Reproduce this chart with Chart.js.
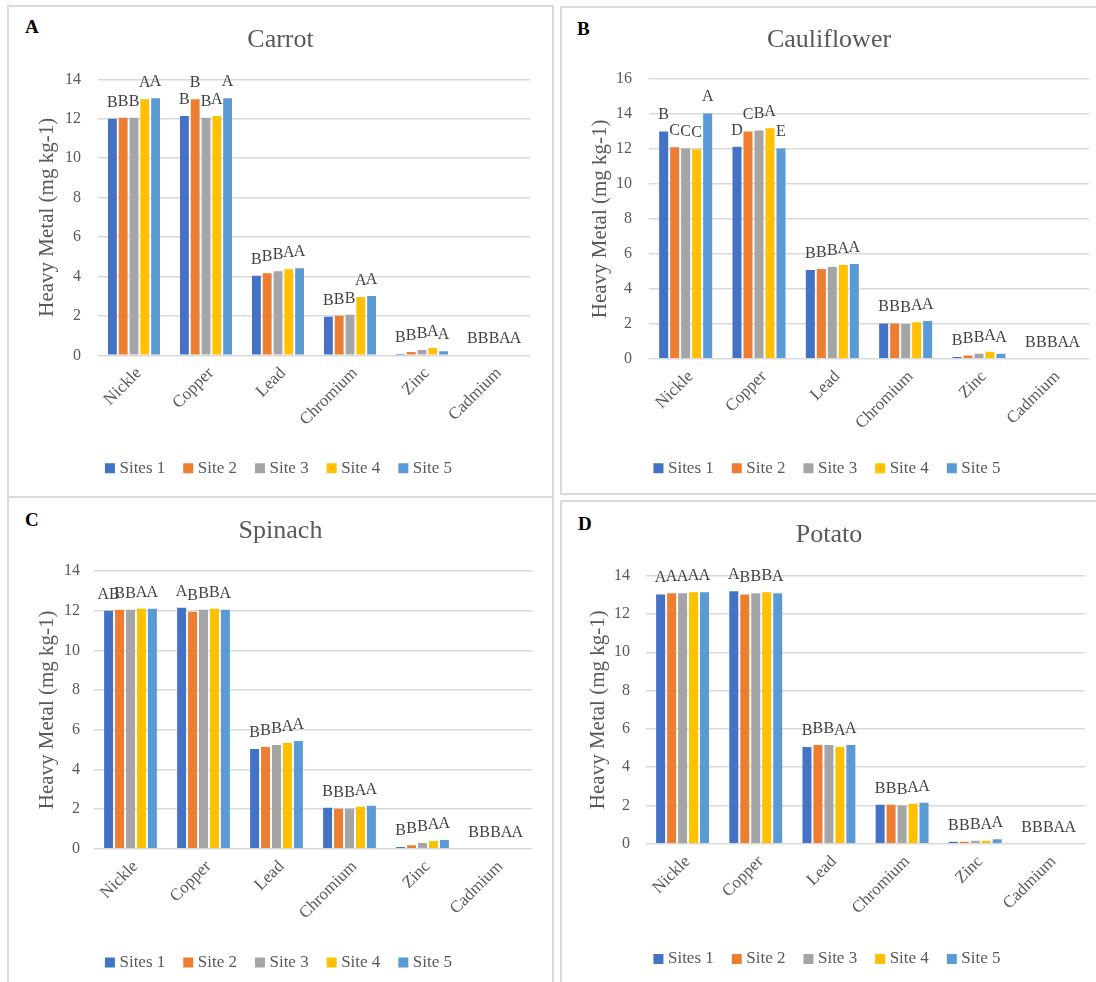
<!DOCTYPE html>
<html>
<head>
<meta charset="utf-8">
<script src="https://cdn.jsdelivr.net/npm/chart.js@4.4.1/dist/chart.umd.min.js"></script>
<style>
  html, body { margin: 0; padding: 0; background: #fff; width: 1096px; height: 982px; overflow: hidden; position: relative; }
  .frame { position: absolute; box-sizing: border-box; border: 2px solid #d9d9d9; }
  canvas { position: absolute; }
  .tag { position: absolute; font: bold 19px 'Liberation Serif', 'Times New Roman', serif; color: #000; line-height: 1; }
</style>
</head>
<body>
<div class="frame" style="left:7px;top:5px;width:547px;height:493px"></div>
<div class="frame" style="left:560px;top:6px;width:560px;height:489px"></div>
<div class="frame" style="left:7px;top:496px;width:547px;height:520px"></div>
<div class="frame" style="left:560px;top:500px;width:560px;height:520px"></div>
<div class="tag" style="left:25px;top:17px">A</div>
<div class="tag" style="left:577px;top:19px">B</div>
<div class="tag" style="left:25px;top:510px">C</div>
<div class="tag" style="left:578px;top:514px">D</div>

<script>
// Heavy metal categories and sampling sites
const metals = ['Nickle', 'Copper', 'Lead', 'Chromium', 'Zinc', 'Cadmium'];
const siteNames = ['Sites 1', 'Site 2', 'Site 3', 'Site 4', 'Site 5'];
const yTicksMax = { carrot: 14, cauliflower: 16, spinach: 14, potato: 14 };

// Concentrations (mg kg-1): one row per site, one column per metal
const carrot = [
  [12.00, 12.14, 4.04, 1.96, 0.07, 0],
  [12.05, 12.99, 4.16, 2.01, 0.17, 0],
  [12.05, 12.05, 4.26, 2.06, 0.27, 0],
  [12.99, 12.14, 4.36, 2.96, 0.37, 0],
  [13.04, 13.04, 4.41, 3.01, 0.20, 0]
];
const cauliflower = [
  [13.00, 12.13, 5.07, 2.02, 0.10, 0],
  [12.09, 13.00, 5.13, 2.02, 0.19, 0],
  [12.03, 13.06, 5.24, 1.98, 0.29, 0],
  [11.98, 13.18, 5.36, 2.08, 0.40, 0],
  [14.03, 12.03, 5.42, 2.15, 0.29, 0]
];
const spinach = [
  [12.00, 12.15, 5.03, 2.07, 0.08, 0],
  [12.05, 11.95, 5.13, 2.02, 0.18, 0],
  [12.05, 12.05, 5.23, 2.02, 0.29, 0],
  [12.10, 12.10, 5.33, 2.12, 0.39, 0],
  [12.10, 12.05, 5.43, 2.17, 0.44, 0]
];
const potato = [
  [13.02, 13.19, 5.05, 2.04, 0.10, 0],
  [13.08, 13.02, 5.15, 2.04, 0.10, 0],
  [13.08, 13.08, 5.15, 1.99, 0.16, 0],
  [13.13, 13.13, 5.05, 2.09, 0.16, 0],
  [13.13, 13.08, 5.15, 2.14, 0.23, 0]
];

// Significance letters above each bar (same layout as the value rows)
const carrotLetters = [
  ['B', 'B', 'B', 'B', 'B', 'B'],
  ['B', 'B', 'B', 'B', 'B', 'B'],
  ['B', 'B', 'B', 'B', 'B', 'B'],
  ['A', 'A', 'A', 'A', 'A', 'A'],
  ['A', 'A', 'A', 'A', 'A', 'A']
];
const cauliflowerLetters = [
  ['B', 'D', 'B', 'B', 'B', 'B'],
  ['C', 'C', 'B', 'B', 'B', 'B'],
  ['C', 'B', 'B', 'B', 'B', 'B'],
  ['C', 'A', 'A', 'A', 'A', 'A'],
  ['A', 'E', 'A', 'A', 'A', 'A']
];
const spinachLetters = [
  ['AB', 'A', 'B', 'B', 'B', 'B'],
  ['B', 'B', 'B', 'B', 'B', 'B'],
  ['B', 'B', 'B', 'B', 'B', 'B'],
  ['A', 'B', 'A', 'A', 'A', 'A'],
  ['A', 'A', 'A', 'A', 'A', 'A']
];
const potatoLetters = [
  ['A', 'A', 'B', 'B', 'B', 'B'],
  ['A', 'B', 'B', 'B', 'B', 'B'],
  ['A', 'B', 'B', 'B', 'B', 'B'],
  ['A', 'B', 'A', 'A', 'A', 'A'],
  ['A', 'A', 'A', 'A', 'A', 'A']
];

// ---- styling ----
const SERIF = "'Liberation Serif', 'Times New Roman', serif";
const siteColors = ['#4472C4', '#ED7D31', '#A5A5A5', '#FFC000', '#5B9BD5'];
const TEXT = '#595959';
const TITLE_SIZE = 26, AXIS_TITLE_SIZE = 21, LEGEND_SIZE = 17, LEGEND_PAD = 22;

// Page-pixel placement of each panel: canvas box, plot area, title/legend centre lines
const panels = [
  { title: 'Carrot', values: carrot, letters: carrotLetters, yMax: yTicksMax.carrot,
    canvas: { x: 9, y: 7, w: 543, h: 489 }, plot: { left: 98, right: 530, top: 79.3, bottom: 355.3 },
    titleMid: 40, legendMid: 468.3, yTitleX: 47, tickPad: 17 },
  { title: 'Cauliflower', values: cauliflower, letters: cauliflowerLetters, yMax: yTicksMax.cauliflower,
    canvas: { x: 562, y: 8, w: 534, h: 485 }, plot: { left: 649, right: 1089, top: 79, bottom: 358.7 },
    titleMid: 40, legendMid: 468.3, yTitleX: 600, tickPad: 17 },
  { title: 'Spinach', values: spinach, letters: spinachLetters, yMax: yTicksMax.spinach,
    canvas: { x: 9, y: 498, w: 543, h: 484 }, plot: { left: 94, right: 532, top: 571, bottom: 848.7 },
    titleMid: 531.5, legendMid: 962.5, yTitleX: 47, tickPad: 14 },
  { title: 'Potato', values: potato, letters: potatoLetters, yMax: yTicksMax.potato,
    canvas: { x: 562, y: 502, w: 534, h: 480 }, plot: { left: 646, right: 1085, top: 575.7, bottom: 843.7 },
    titleMid: 535.5, legendMid: 959, yTitleX: 598.5, tickPad: 16 }
];

// Draws the significance letters just above every bar
const letterPlugin = {
  id: 'barLetters',
  afterDatasetsDraw(chart) {
    const ctx = chart.ctx;
    ctx.save();
    ctx.font = '16px ' + SERIF;
    ctx.fillStyle = '#404040';
    ctx.textAlign = 'center';
    ctx.textBaseline = 'alphabetic';
    chart.data.datasets.forEach((ds, i) => {
      chart.getDatasetMeta(i).data.forEach((bar, j) => {
        ctx.fillText(ds.letters[j], bar.x, bar.y - 12);
      });
    });
    ctx.restore();
  }
};

function buildPanel(p) {
  const cv = document.createElement('canvas');
  cv.width = p.canvas.w; cv.height = p.canvas.h;
  cv.style.left = p.canvas.x + 'px'; cv.style.top = p.canvas.y + 'px';
  document.body.appendChild(cv);

  const titleLH = TITLE_SIZE * 1.2;
  const titlePadTop = (p.titleMid - p.canvas.y) - titleLH / 2;
  const titlePadBottom = (p.plot.top - p.canvas.y) - titlePadTop - titleLH;
  const legendTop = (p.legendMid - p.canvas.y) - (LEGEND_PAD + LEGEND_SIZE / 2);
  const legendH = LEGEND_SIZE + LEGEND_PAD + 10;
  const xAxisH = legendTop - (p.plot.bottom - p.canvas.y);
  const padBottom = p.canvas.h - (legendTop + legendH);
  const yAxisW = p.plot.left - p.canvas.x;
  const rightW = p.canvas.x + p.canvas.w - p.plot.right;
  const yTitlePad = (p.yTitleX - p.canvas.x) - AXIS_TITLE_SIZE * 1.2 / 2;

  new Chart(cv, {
    type: 'bar',
    data: {
      labels: metals,
      datasets: siteNames.map((name, i) => ({
        label: name,
        data: p.values[i],
        letters: p.letters[i],
        backgroundColor: siteColors[i],
        borderWidth: 0,
        categoryPercentage: 0.75,
        barPercentage: 0.82
      }))
    },
    options: {
      responsive: false,
      animation: false,
      devicePixelRatio: 1,
      layout: { padding: { left: 0, right: 0, top: 0, bottom: padBottom } },
      plugins: {
        title: {
          display: true, text: p.title, color: TEXT,
          font: { family: SERIF, size: TITLE_SIZE, weight: 'normal' },
          padding: { top: titlePadTop, bottom: titlePadBottom }
        },
        legend: {
          position: 'bottom',
          labels: {
            color: TEXT, font: { family: SERIF, size: LEGEND_SIZE },
            usePointStyle: true, pointStyle: 'rect',
            boxWidth: 2, boxHeight: 10, padding: LEGEND_PAD
          }
        },
        tooltip: { enabled: false }
      },
      scales: {
        x: {
          grid: { display: false, drawTicks: false },
          border: { display: false },
          ticks: {
            color: TEXT, font: { family: SERIF, size: 17 },
            minRotation: 45, maxRotation: 45, padding: 8, labelOffset: 5, autoSkip: false
          },
          afterFit(s) { s.height = xAxisH; }
        },
        y: {
          min: 0, max: p.yMax,
          ticks: { stepSize: 2, color: TEXT, font: { family: SERIF, size: 16 }, padding: p.tickPad },
          grid: { color: '#d9d9d9', lineWidth: 1.5, drawTicks: false },
          border: { display: false },
          title: {
            display: true, text: 'Heavy Metal (mg kg-1)', color: TEXT,
            font: { family: SERIF, size: AXIS_TITLE_SIZE },
            padding: { top: yTitlePad, bottom: 0 }
          },
          afterFit(s) { s.width = yAxisW; }
        },
        gutter: {
          type: 'linear', position: 'right', display: true,
          grid: { display: false }, border: { display: false }, ticks: { display: false },
          afterFit(s) { s.width = rightW; }
        }
      }
    },
    plugins: [letterPlugin]
  });
}

panels.forEach(buildPanel);
</script>
</body>
</html>
